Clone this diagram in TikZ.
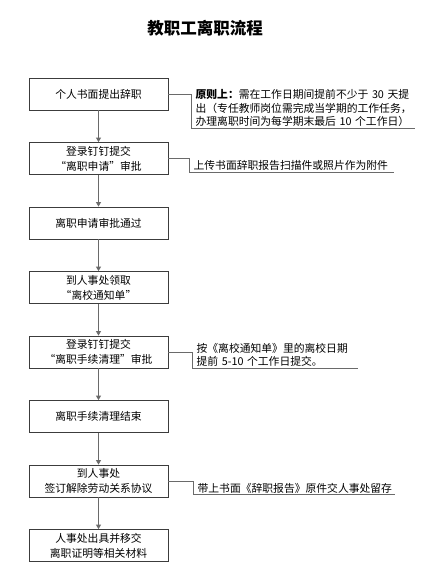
\documentclass[tikz,border=0pt]{standalone}
\usepackage{fontspec}
\setmainfont{Noto Sans CJK SC}
\usepackage{tikz}
\usetikzlibrary{arrows.meta,positioning}
\definecolor{ink}{HTML}{3C3C3C}
\definecolor{wire}{HTML}{6A6A6A}
\tikzset{
  block/.style={draw=ink,line width=0.8pt,align=center,minimum width=139pt,minimum height=32pt,
    inner sep=2pt,font=\fontsize{10.8}{15}\selectfont},
  arr/.style={-{Triangle[length=4.5pt,width=5pt]},line width=0.8pt,draw=wire},
  link/.style={line width=0.8pt,draw=wire},
  note/.style={align=left,anchor=west,inner xsep=4pt,inner ysep=1.5pt,
    font=\fontsize{10.8}{13.5}\selectfont}
}

\begin{document}
\begin{tikzpicture}[node distance=31.7pt]
  \useasboundingbox (0,0) rectangle (433pt,-575pt);
  \node[font=\fontsize{16.5}{20}\selectfont\bfseries] (title) at (205pt,-28pt) {教职工离职流程};

  \node[block] (resign) at (98.5pt,-94pt) {个人书面提出辞职};
  \node[block,below=of resign] (apply) {登录钉钉提交\\“离职申请”审批};
  \node[block,below=of apply] (passed) {离职申请审批通过};
  \node[block,below=of passed] (notice) {到人事处领取\\“离校通知单”};
  \node[block,below=of notice] (clear) {登录钉钉提交\\“离职手续清理”审批};
  \node[block,below=of clear] (cleared) {离职手续清理结束};
  \node[block,below=of cleared] (contract) {到人事处\\签订解除劳动关系协议};
  \node[block,below=of contract] (proof) {人事处出具并移交\\离职证明等相关材料};
  \draw[arr] (resign)--(apply); \draw[arr] (apply)--(passed); \draw[arr] (passed)--(notice);
  \draw[arr] (notice)--(clear); \draw[arr] (clear)--(cleared); \draw[arr] (cleared)--(contract);
  \draw[arr] (contract)--(proof);

  % notes beside the steps
  \node[note,text width=215pt] (rule) at ([xshift=23pt,yshift=-14pt]resign.east)
    {\textbf{原则上：}需在工作日期间提前不少于 30 天提\\出（专任教师岗位需完成当学期的工作任务，\\办理离职时间为每学期末最后 10 个工作日）};
  \node[note,text width=196pt] (upload) at ([xshift=21pt,yshift=-7pt]apply.east)
    {上传书面辞职报告扫描件或照片作为附件};
  \node[note,text width=157pt] (timing) at ([xshift=24pt,yshift=-3pt]clear.east)
    {按《离校通知单》里的离校日期\\提前 5-10 个工作日提交。};
  \node[note,text width=193pt] (archive) at ([xshift=25pt,yshift=-7pt]contract.east)
    {带上书面《辞职报告》原件交人事处留存};
  \draw[link] (resign.east) -- (resign.east -| rule.west) |- (rule.south east);
  \draw[link] (apply.east) -- (apply.east -| upload.west) |- (upload.south east);
  \draw[link] (clear.east) -- (clear.east -| timing.west) |- (timing.south east);
  \draw[link] (contract.east) -- (contract.east -| archive.west) |- (archive.south east);
\end{tikzpicture}
\end{document}
